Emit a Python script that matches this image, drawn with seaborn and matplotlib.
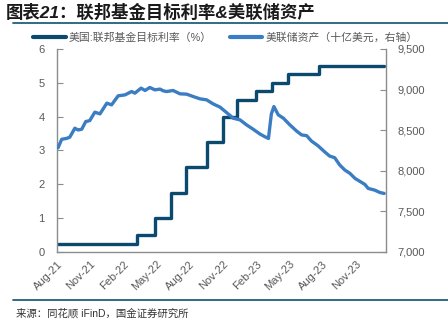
import matplotlib
matplotlib.use("Agg")
import matplotlib.pyplot as plt
import matplotlib.dates as mdates
from matplotlib.ticker import FuncFormatter, MultipleLocator
from matplotlib.lines import Line2D
import seaborn as sns
import pandas as pd

# Federal funds target rate (upper bound, %), changes at each FOMC move
rate_dates = ["2021-08-04", "2022-03-09", "2022-04-28", "2022-06-10", "2022-07-21",
              "2022-09-16", "2022-11-01", "2022-12-08", "2023-01-29", "2023-03-16",
              "2023-04-28", "2023-07-22", "2024-01-17"]
rate_values = [0.25, 0.50, 1.00, 1.75, 2.50, 3.25, 4.00, 4.50, 4.75, 5.00, 5.25, 5.50, 5.50]

# Fed total assets (billion USD)
asset_dates = ["2021-08-04", "2021-08-14", "2021-08-28", "2021-09-05", "2021-09-19",
               "2021-09-28", "2021-10-08", "2021-10-19", "2021-10-30", "2021-11-13",
               "2021-11-27", "2021-12-16", "2021-12-29", "2022-01-16", "2022-02-04",
               "2022-02-22", "2022-03-03", "2022-03-20", "2022-03-31", "2022-04-13",
               "2022-04-27", "2022-05-11", "2022-05-20", "2022-05-29", "2022-06-16",
               "2022-07-05", "2022-07-23", "2022-08-10", "2022-08-29", "2022-09-16",
               "2022-10-04", "2022-10-23", "2022-11-10", "2022-11-28", "2022-12-17",
               "2023-01-04", "2023-01-22", "2023-02-10", "2023-02-23", "2023-03-05",
               "2023-03-13", "2023-03-20", "2023-04-01", "2023-04-15", "2023-05-03",
               "2023-05-21", "2023-06-04", "2023-06-18", "2023-07-01", "2023-07-19",
               "2023-08-06", "2023-08-20", "2023-09-03", "2023-09-17", "2023-10-01",
               "2023-10-15", "2023-10-29", "2023-11-16", "2023-11-25", "2023-12-04",
               "2023-12-22", "2024-01-05", "2024-01-17"]
asset_values = [8285, 8388, 8400, 8413, 8524, 8503, 8512, 8606, 8618, 8722,
                8701, 8833, 8812, 8923, 8935, 8976, 8956, 9018, 8989, 9026,
                8997, 9006, 8985, 8976, 8989, 8948, 8944, 8915, 8886, 8874,
                8824, 8784, 8717, 8648, 8627, 8565, 8512, 8452, 8420, 8398,
                8700, 8791, 8689, 8648, 8565, 8491, 8442, 8433, 8367, 8309,
                8235, 8182, 8161, 8071, 8009, 7968, 7906, 7857, 7832, 7783,
                7762, 7733, 7721]

x_ticks = ["2021-08-01", "2021-11-01", "2022-02-01", "2022-05-01", "2022-08-01",
           "2022-11-01", "2023-02-01", "2023-05-01", "2023-08-01", "2023-11-01"]

rate_label = "美国:联邦基金目标利率（%）"
asset_label = "美联储资产（十亿美元，右轴）"
title_text = "图表21：联邦基金目标利率&美联储资产"
source_text = "来源：同花顺 iFinD，国金证券研究所"

RATE_COLOR = "#0b4a6e"
ASSET_COLOR = "#3b7dc2"
RULE_COLOR = "#1f5f7f"
TEXT_GRAY = "#595959"
SPINE_GRAY = "#8c8c8c"

sns.set_theme(style="white")
plt.rcParams["font.family"] = ["Liberation Sans", "Noto Sans CJK SC", "DejaVu Sans"]

rate_df = pd.DataFrame({"date": pd.to_datetime(rate_dates), "rate": rate_values})
asset_df = pd.DataFrame({"date": pd.to_datetime(asset_dates), "assets": asset_values})

fig = plt.figure(figsize=(4.48, 3.26), dpi=100)
ax = fig.add_axes([0.1272, 0.227, 0.7344, 0.6227])
ax2 = ax.twinx()

sns.lineplot(data=rate_df, x="date", y="rate", ax=ax, color=RATE_COLOR,
             linewidth=2.4, drawstyle="steps-post", legend=False)
sns.lineplot(data=asset_df, x="date", y="assets", ax=ax2, color=ASSET_COLOR,
             linewidth=2.4, legend=False)

ax.set_xlim(pd.Timestamp("2021-08-01"), pd.Timestamp("2024-01-22"))
ax.set_ylim(0, 6)
ax2.set_ylim(7000, 9500)
ax.yaxis.set_major_locator(MultipleLocator(1))
ax2.yaxis.set_major_locator(MultipleLocator(500))
ax2.yaxis.set_major_formatter(FuncFormatter(lambda v, p: f"{int(v):,}"))

ax.set_xticks(pd.to_datetime(x_ticks))
ax.xaxis.set_major_formatter(mdates.DateFormatter("%b-%y"))
for lbl in ax.get_xticklabels():
    lbl.set_rotation(45)
    lbl.set_ha("right")
    lbl.set_rotation_mode("anchor")

for a in (ax, ax2):
    a.set_xlabel("")
    a.set_ylabel("")
    a.grid(False)
    for side, sp in a.spines.items():
        sp.set_color(SPINE_GRAY)
        sp.set_linewidth(1.0)
    a.spines["top"].set_visible(False)
    a.tick_params(direction="in", length=4, width=0.8, color=SPINE_GRAY,
                  labelsize=8, labelcolor=TEXT_GRAY)
ax.tick_params(axis="y", pad=9)
ax.tick_params(axis="x", pad=5)
ax2.tick_params(axis="y", pad=8)
ax.spines["right"].set_visible(False)
ax2.spines["left"].set_visible(False)
ax2.spines["bottom"].set_visible(False)

handles = [Line2D([], [], color=RATE_COLOR, linewidth=3),
           Line2D([], [], color=ASSET_COLOR, linewidth=3)]
fig.legend(handles, [rate_label, asset_label], loc="center left",
           bbox_to_anchor=(0.074, 0.884), ncol=2, frameon=False,
           fontsize=7.8, handlelength=3.0, handletextpad=0.25, columnspacing=1.7,
           labelcolor=TEXT_GRAY, borderaxespad=0, borderpad=0)

fig.text(0.012, 0.962, title_text, fontsize=12.5, fontweight="bold",
         color="#1a1a1a", ha="left", va="center", style="italic")
fig.add_artist(Line2D([0.03, 1.0], [0.930, 0.930], transform=fig.transFigure,
                      color=RULE_COLOR, linewidth=1.3))
fig.add_artist(Line2D([0.03, 1.0], [0.080, 0.080], transform=fig.transFigure,
                      color=RULE_COLOR, linewidth=1.3))
fig.text(0.035, 0.037, source_text, fontsize=7.5, color="#333333",
         ha="left", va="center")

fig.savefig("out.png", dpi=100)
